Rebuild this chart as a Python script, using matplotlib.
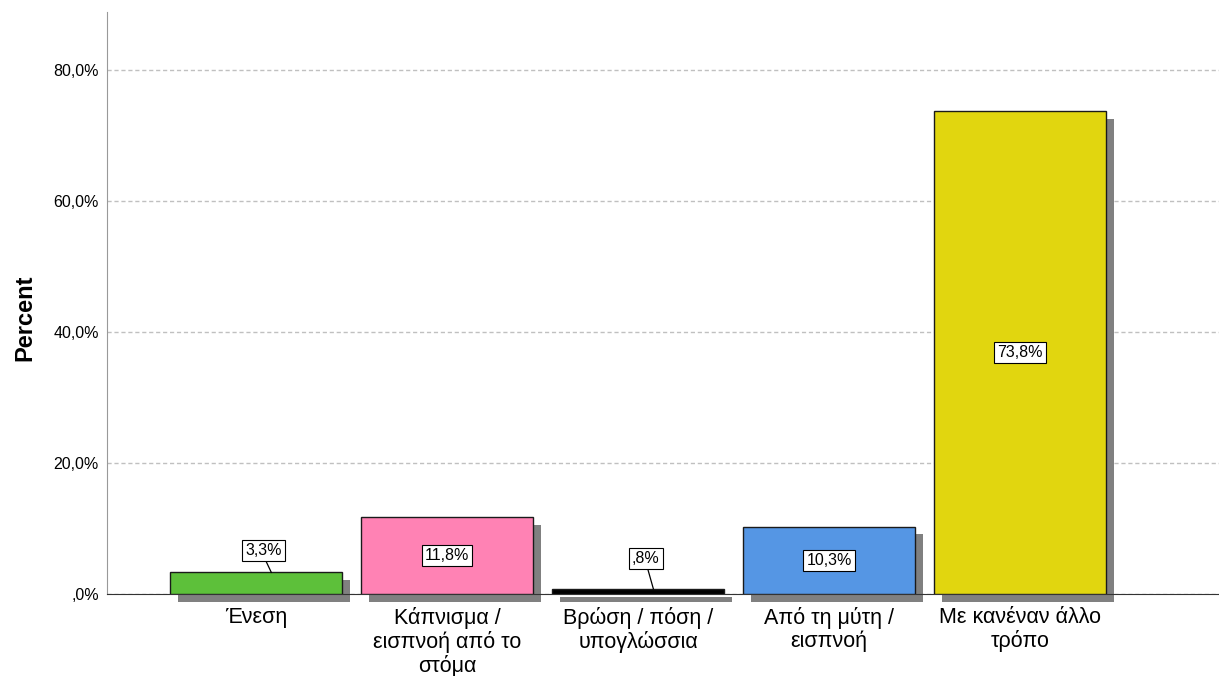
import matplotlib.pyplot as plt
import numpy as np

plt.rcParams['font.family'] = ['Liberation Sans', 'DejaVu Sans']

categories = ["Ένεση", "Κάπνισμα /\nεισπνοή από το\nστόμα", "Βρώση / πόση /\nυπογλώσσια",
              "Από τη μύτη /\nεισπνοή", "Με κανέναν άλλο\nτρόπο"]
percent = [3.3, 11.8, 0.8, 10.3, 73.8]
labels = ["3,3%", "11,8%", ",8%", "10,3%", "73,8%"]
colors = ["#5dc03a", "#ff82b4", "#000000", "#5596e4", "#e1d60f"]
yticks = [0, 20, 40, 60, 80]
ytick_labels = [",0%", "20,0%", "40,0%", "60,0%", "80,0%"]

fig = plt.figure(figsize=(12.19, 6.76), dpi=100)
ax = fig.add_axes([0.0878, 0.1213, 0.912, 0.861])

x = np.arange(len(categories))
w = 0.9
# drop shadows first (offset right and down)
dx, dy = 0.042, -1.2
for xi, v in zip(x, percent):
    ax.bar(xi + dx, v, width=w, bottom=dy, color="#808080", edgecolor="none",
           zorder=2, clip_on=False)
ax.bar(x, percent, width=w, color=colors, edgecolor="#1a1a1a", linewidth=1.0, zorder=3)

for xi, v, lab in zip(x, percent, labels):
    box = dict(boxstyle="square,pad=0.2", fc="white", ec="black", lw=0.8)
    if v < 5:
        ly = 5.0 + v * 0.5
        ax.plot([xi + 0.05, xi + 0.08], [ly - 1.5, v], color="black", lw=0.9, zorder=4)
        ax.text(xi + 0.04, ly, lab, ha="center", va="center", fontsize=11.5, bbox=box, zorder=5)
    else:
        ax.text(xi, v / 2, lab, ha="center", va="center", fontsize=11.5, bbox=box, zorder=5)

ax.set_xlim(-0.78, 5.04)
ax.set_ylim(0, 88.9)
ax.set_yticks(yticks)
ax.set_yticklabels(ytick_labels, fontsize=11.5)
ax.set_xticks(x)
ax.set_xticklabels(categories, fontsize=15.5, linespacing=1.12)
ax.tick_params(axis="both", length=0)
ax.tick_params(axis="y", pad=6)
ax.tick_params(axis="x", pad=9)
ax.set_ylabel("Percent", fontsize=17, fontweight="bold")
ax.yaxis.set_label_coords(-0.064, 0.474)

ax.yaxis.grid(True, linestyle=(0, (3, 2)), color="#c0c0c0", lw=1.0, zorder=0)
ax.set_axisbelow(True)
for s in ["top", "right"]:
    ax.spines[s].set_visible(False)
ax.spines["left"].set_color("#999999")
ax.spines["bottom"].set_color("#333333")
ax.spines["bottom"].set_zorder(2.5)

fig.savefig("out.png", dpi=100)
